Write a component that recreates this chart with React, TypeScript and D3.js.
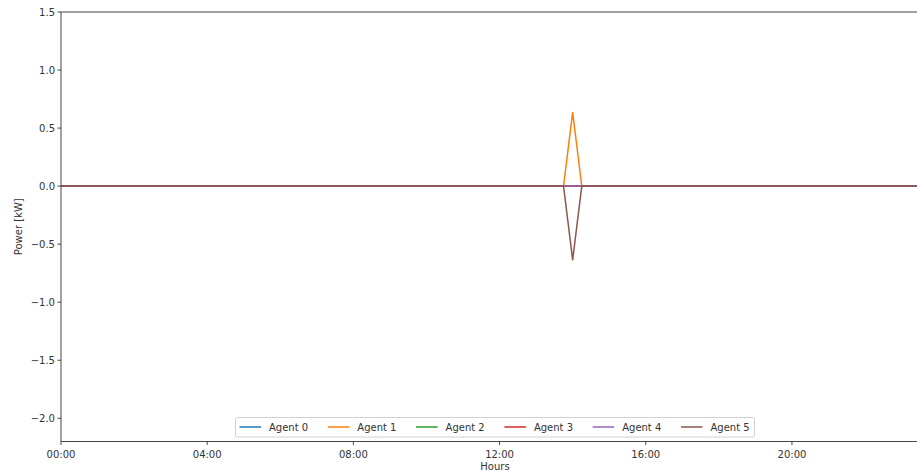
import * as d3 from "d3";
import { useEffect, useRef } from "react";

// breakpoints of the 15-minute series (all agents are flat at 0 elsewhere)
const times = ["00:00", "13:45", "14:00", "14:15", "23:45"];
const agentNames = ["Agent 0", "Agent 1", "Agent 2", "Agent 3", "Agent 4", "Agent 5"];
const agent0 = [0, 0, 0, 0, 0];
const agent1 = [0, 0, 0.635, 0, 0];
const agent2 = [0, 0, 0, 0, 0];
const agent3 = [0, 0, 0, 0, 0];
const agent4 = [0, 0, 0, 0, 0];
const agent5 = [0, 0, -0.635, 0, 0];
const series = [agent0, agent1, agent2, agent3, agent4, agent5];
const colors = ["#1f77b4", "#ff7f0e", "#2ca02c", "#d62728", "#9467bd", "#8c564b"];

const xTickLabels = ["00:00", "04:00", "08:00", "12:00", "16:00", "20:00"];
const yTicks = [-2.0, -1.5, -1.0, -0.5, 0.0, 0.5, 1.0, 1.5];

export default function App() {
    const svgRef = useRef<SVGSVGElement | null>(null);

    useEffect(() => {
        if (!svgRef.current) return;
        const svg = d3.select(svgRef.current);
        svg.selectAll("*").remove();

        const totalW = 917;
        const totalH = 474;
        const left = 61;
        const right = 929;
        const top = 12;
        const bottom = 441.5;
        const font = "DejaVu Sans, sans-serif";

        const parse = d3.timeParse("%H:%M");
        const dates = times.map((t) => parse(t)!);

        const x = d3.scaleTime().domain([dates[0], dates[dates.length - 1]]).range([left, right]);
        const y = d3.scaleLinear().domain([-2.2, 1.5]).range([bottom, top]);

        svg.append("rect").attr("width", totalW).attr("height", totalH).attr("fill", "#fff");

        const line = d3
            .line<number>()
            .x((d, i) => x(dates[i]))
            .y((d) => y(d));

        series.forEach((s, k) => {
            svg.append("path")
                .datum(s)
                .attr("fill", "none")
                .attr("stroke", colors[k])
                .attr("stroke-width", 1.5)
                .attr("stroke-linejoin", "round")
                .attr("d", line);
        });

        // spines
        svg.append("rect")
            .attr("x", left)
            .attr("y", top)
            .attr("width", right - left)
            .attr("height", bottom - top)
            .attr("fill", "none")
            .attr("stroke", "#333")
            .attr("stroke-width", 0.9);

        // x axis
        const xg = svg.append("g").attr("transform", `translate(0,${bottom})`);
        xTickLabels.forEach((lab) => {
            const px = x(parse(lab)!);
            xg.append("line").attr("x1", px).attr("x2", px).attr("y1", 0).attr("y2", 3.5).attr("stroke", "#333").attr("stroke-width", 0.9);
            xg.append("text")
                .attr("x", px)
                .attr("y", 16)
                .attr("text-anchor", "middle")
                .attr("font-family", font)
                .attr("font-size", 10)
                .attr("fill", "#333")
                .text(lab);
        });

        // y axis
        const yg = svg.append("g").attr("transform", `translate(${left},0)`);
        yTicks.forEach((v) => {
            const py = y(v);
            yg.append("line").attr("x1", 0).attr("x2", -3.5).attr("y1", py).attr("y2", py).attr("stroke", "#333").attr("stroke-width", 0.9);
            yg.append("text")
                .attr("x", -6)
                .attr("y", py)
                .attr("dy", "0.35em")
                .attr("text-anchor", "end")
                .attr("font-family", font)
                .attr("font-size", 10)
                .attr("fill", "#333")
                .text(d3.format(".1f")(v).replace("-", "\u2212"));
        });

        svg.append("text")
            .attr("x", (left + right) / 2)
            .attr("y", 470)
            .attr("text-anchor", "middle")
            .attr("font-family", font)
            .attr("font-size", 10)
            .attr("fill", "#333")
            .text("Hours");

        svg.append("text")
            .attr("transform", `translate(22,${(top + bottom) / 2}) rotate(-90)`)
            .attr("text-anchor", "middle")
            .attr("font-family", font)
            .attr("font-size", 10)
            .attr("fill", "#333")
            .text("Power [kW]");

        // legend
        const itemW = 88.3;
        const legW = 519;
        const legX = (left + right) / 2 - legW / 2;
        const legY = 417.5;
        const leg = svg.append("g").attr("transform", `translate(${legX},${legY})`);
        leg.append("rect")
            .attr("width", legW)
            .attr("height", 19.5)
            .attr("rx", 2)
            .attr("fill", "#fff")
            .attr("fill-opacity", 0.8)
            .attr("stroke", "#ccc")
            .attr("stroke-width", 0.9);
        agentNames.forEach((name, k) => {
            const gx = 4 + k * itemW;
            leg.append("line")
                .attr("x1", gx)
                .attr("x2", gx + 21.5)
                .attr("y1", 9.5)
                .attr("y2", 9.5)
                .attr("stroke", colors[k])
                .attr("stroke-width", 1.5);
            leg.append("text")
                .attr("x", gx + 29.5)
                .attr("y", 9.5)
                .attr("dy", "0.35em")
                .attr("font-family", font)
                .attr("font-size", 10)
                .attr("fill", "#333")
                .text(name);
        });
    }, []);

    return (
        <svg
            ref={svgRef}
            width={917}
            height={474}
            style={{ position: "absolute", left: 0, top: 0, display: "block" }}
        />
    );
}
